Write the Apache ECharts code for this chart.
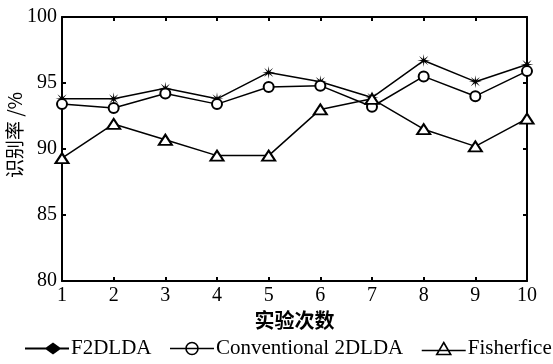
<!DOCTYPE html>
<html lang="en">
<head>
    <meta charset="UTF-8">
    <title>识别率</title>
    <script src="https://cdn.jsdelivr.net/npm/echarts@6/dist/echarts.min.js"></script>
    <style>
        html, body { margin: 0; padding: 0; background: #fff; }
        #main { width: 553px; height: 364px; }
    </style>
</head>
<body>
<div id="main"></div>
<script type="text/javascript">
    const runs = ['1', '2', '3', '4', '5', '6', '7', '8', '9', '10']
    const f2dlda = [93.8, 93.8, 94.6, 93.8, 95.8, 95.1, 93.9, 96.7, 95.1, 96.4]
    const conventional = [93.4, 93.1, 94.2, 93.4, 94.7, 94.8, 93.2, 95.5, 94.0, 95.9]
    const fisherfice = [89.3, 91.9, 90.7, 89.5, 89.5, 93.0, 93.8, 91.5, 90.2, 92.3]
    const yTicks = [80, 85, 90, 95, 100]

    const serif = '"Liberation Serif", "DejaVu Serif", serif'
    const cjk = '"Noto Sans CJK SC", sans-serif'

    // asterisk-like marker: thin 8 point star
    let star = 'path://'
    for (let i = 0; i < 16; i++) {
        const a = Math.PI * i / 8
        const r = i % 2 === 0 ? 10 : 2.6
        star += (i === 0 ? 'M' : 'L') + (10 + r * Math.sin(a)).toFixed(2) + ',' + (10 - r * Math.cos(a)).toFixed(2)
    }
    star += 'Z'

    // legend icons: 44 x 12 boxes, line through a marker
    const iconDiamond = 'path://M0,5L21,5L28,0L35,5L44,5L44,7L35,7L28,12L21,7L0,7Z'
    const iconCircle = 'path://M0,6L16,6M28,6L44,6M16,6A6,6,0,1,1,28,6A6,6,0,1,1,16,6M16,6L28,6'
    const iconTriangle = 'path://M0,8L15,8M29,8L44,8M22,0L29,12L15,12ZM15,8L29,8'

    const chart = echarts.init(document.getElementById('main'))
    chart.setOption({
        animation: false,
        backgroundColor: '#fff',
        grid: { left: 62, right: 26, top: 17, bottom: 83, outerBoundsMode: 'none', containLabel: false },
        graphic: [{
            type: 'text',
            x: 15,
            y: 135,
            rotation: Math.PI / 2,
            style: {
                text: '识别率 /%',
                font: '19px "Noto Sans CJK SC", sans-serif',
                fill: '#000',
                align: 'center',
                verticalAlign: 'middle'
            }
        }],
        legend: {
            bottom: 5,
            left: 25,
            width: 700,
            padding: 0,
            itemWidth: 44,
            itemHeight: 12,
            itemGap: 16,
            textStyle: { fontFamily: serif, fontSize: 21, color: '#000', padding: [0, 0, 0, -3] },
            data: [
                { name: 'F2DLDA', icon: iconDiamond, itemStyle: { color: '#000', borderWidth: 0 } },
                { name: 'Conventional 2DLDA', icon: iconCircle, itemStyle: { color: 'none', borderColor: '#000', borderWidth: 1.6 } },
                { name: 'Fisherfice', icon: iconTriangle, itemStyle: { color: 'none', borderColor: '#000', borderWidth: 1.6 } }
            ]
        },
        xAxis: [{
            type: 'category',
            data: runs,
            boundaryGap: false,
            name: '实验次数',
            nameLocation: 'middle',
            nameGap: 26,
            nameTextStyle: { fontFamily: cjk, fontSize: 20, fontWeight: 'bold', color: '#000' },
            axisLine: { lineStyle: { color: '#000', width: 2 } },
            axisTick: { inside: true, length: 4, lineStyle: { color: '#000', width: 2 } },
            axisLabel: { fontFamily: serif, fontSize: 20, color: '#000', margin: 5 },
            splitLine: { show: false }
        }, {
            type: 'category',
            data: runs,
            boundaryGap: false,
            position: 'top',
            axisLine: { lineStyle: { color: '#000', width: 2 } },
            axisTick: { inside: true, length: 4, lineStyle: { color: '#000', width: 2 } },
            axisLabel: { show: false },
            splitLine: { show: false }
        }],
        yAxis: [{
            type: 'value',
            min: yTicks[0],
            max: yTicks[yTicks.length - 1],
            interval: 5,
            axisLine: { show: true, lineStyle: { color: '#000', width: 2 } },
            axisTick: { show: true, inside: true, length: 4, lineStyle: { color: '#000', width: 2 } },
            axisLabel: { fontFamily: serif, fontSize: 20, color: '#000', margin: 5 },
            splitLine: { show: false }
        }, {
            type: 'value',
            min: yTicks[0],
            max: yTicks[yTicks.length - 1],
            interval: 5,
            position: 'right',
            axisLine: { show: true, lineStyle: { color: '#000', width: 2 } },
            axisTick: { show: true, inside: true, length: 4, lineStyle: { color: '#000', width: 2 } },
            axisLabel: { show: false },
            splitLine: { show: false }
        }],
        series: [{
            name: 'F2DLDA',
            type: 'line',
            data: f2dlda,
            symbol: star,
            symbolSize: 13,
            itemStyle: { color: '#000' },
            lineStyle: { color: '#000', width: 1.5 }
        }, {
            name: 'Conventional 2DLDA',
            type: 'line',
            data: conventional,
            symbol: 'emptyCircle',
            symbolSize: 10,
            itemStyle: { color: '#000', borderWidth: 1.3 },
            lineStyle: { color: '#000', width: 1.5 }
        }, {
            name: 'Fisherfice',
            type: 'line',
            data: fisherfice,
            symbol: 'emptyTriangle',
            symbolSize: [13, 10],
            itemStyle: { color: '#000', borderWidth: 1.3 },
            lineStyle: { color: '#000', width: 1.5 }
        }]
    })
</script>
</body>
</html>
